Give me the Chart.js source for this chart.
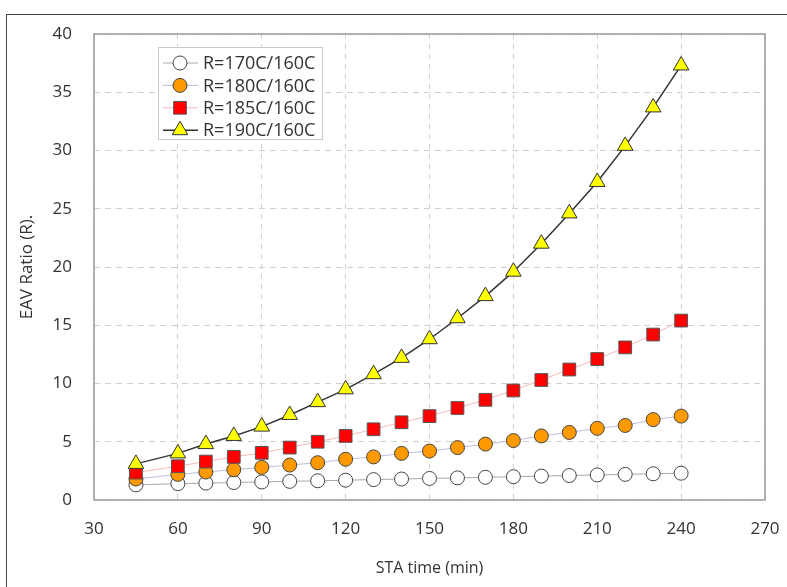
<!DOCTYPE html>
<html>
<head>
<meta charset="utf-8">
<script src="https://cdn.jsdelivr.net/npm/chart.js@4"></script>
<style>
    html, body { margin: 0; padding: 0; background: #fff; }
    #wrap { position: absolute; left: 0; top: 0; width: 787px; height: 587px; }
</style>
</head>
<body>
<div id="wrap"><canvas id="eavChart" width="787" height="587"></canvas></div>
<script>
// values
const staTime = [45, 60, 70, 80, 90, 100, 110, 120, 130, 140, 150, 160, 170, 180, 190, 200, 210, 220, 230, 240];
const ratio170 = [1.3, 1.4, 1.45, 1.5, 1.55, 1.6, 1.65, 1.7, 1.75, 1.8, 1.85, 1.9, 1.95, 2.0, 2.05, 2.1, 2.15, 2.2, 2.25, 2.3];
const ratio180 = [1.8, 2.2, 2.4, 2.6, 2.8, 3.0, 3.2, 3.5, 3.7, 4.0, 4.2, 4.5, 4.8, 5.1, 5.5, 5.8, 6.15, 6.4, 6.9, 7.2];
const ratio185 = [2.35, 2.9, 3.3, 3.7, 4.05, 4.5, 5.0, 5.5, 6.07, 6.67, 7.2, 7.9, 8.6, 9.4, 10.3, 11.2, 12.1, 13.1, 14.2, 15.4];
const ratio190 = [3.1, 4.0, 4.8, 5.5, 6.3, 7.3, 8.4, 9.5, 10.8, 12.2, 13.8, 15.6, 17.5, 19.6, 22.0, 24.6, 27.3, 30.4, 33.7, 37.3];
const seriesLabels = ['R=170C/160C', 'R=180C/160C', 'R=185C/160C', 'R=190C/160C'];

const fontFamily = '"Open Sans", "DejaVu Sans", sans-serif';

function toPoints(values) {
    return values.map((v, i) => ({ x: staTime[i], y: v }));
}

function drawMarker(ctx, style, x, y, r, fill, stroke) {
    ctx.save();
    ctx.beginPath();
    if (style === 'circle') {
        ctx.arc(x, y, r, 0, Math.PI * 2);
    } else if (style === 'rect') {
        const s = r * Math.SQRT1_2;
        ctx.rect(x - s, y - s, s * 2, s * 2);
    } else {
        ctx.moveTo(x, y - r);
        ctx.lineTo(x + r * 0.866, y + r / 2);
        ctx.lineTo(x - r * 0.866, y + r / 2);
        ctx.closePath();
    }
    ctx.fillStyle = fill;
    ctx.fill();
    ctx.lineWidth = 1;
    ctx.strokeStyle = stroke;
    ctx.stroke();
    ctx.restore();
}

// outer frame + solid plot box
const framePlugin = {
    id: 'framePlugin',
    beforeDraw(chart) {
        const ctx = chart.ctx;
        ctx.save();
        ctx.strokeStyle = '#444';
        ctx.lineWidth = 1;
        ctx.strokeRect(6.5, 14.5, 800, 600);
        ctx.restore();
    },
    afterDraw(chart) {
        const { ctx, chartArea: a } = chart;
        ctx.save();
        ctx.strokeStyle = '#9a9a9a';
        ctx.lineWidth = 1.5;
        ctx.strokeRect(a.left, a.top, a.right - a.left, a.bottom - a.top);
        ctx.restore();
    }
};

// Excel-like legend inside the plot
const boxLegend = {
    id: 'boxLegend',
    afterDraw(chart) {
        const ctx = chart.ctx;
        const x0 = 158, y0 = 47, w = 164, h = 92;
        ctx.save();
        ctx.fillStyle = '#fff';
        ctx.fillRect(x0, y0, w, h);
        ctx.strokeStyle = '#c8c8c8';
        ctx.lineWidth = 1;
        ctx.strokeRect(x0 + 0.5, y0 + 0.5, w, h);
        ctx.font = '18px ' + fontFamily;
        ctx.textBaseline = 'middle';
        chart.data.datasets.forEach((ds, i) => {
            const y = 63 + i * 22.4;
            ctx.beginPath();
            ctx.moveTo(163, y);
            ctx.lineTo(198, y);
            ctx.strokeStyle = ds.borderColor;
            ctx.lineWidth = ds.borderWidth;
            ctx.stroke();
            drawMarker(ctx, ds.pointStyle, 180, y, ds.pointRadius, ds.pointBackgroundColor, ds.pointBorderColor);
            ctx.fillStyle = '#333';
            ctx.fillText(ds.label, 203, y + 1);
        });
        ctx.restore();
    }
};

const ctx = document.getElementById('eavChart').getContext('2d');
new Chart(ctx, {
    type: 'line',
    data: {
        datasets: [
            {
                label: seriesLabels[0],
                data: toPoints(ratio170),
                borderColor: '#a8a8a8',
                borderWidth: 1,
                pointStyle: 'circle',
                pointRadius: 7,
                pointBackgroundColor: '#ffffff',
                pointBorderColor: '#444',
                pointBorderWidth: 1,
                order: 4
            },
            {
                label: seriesLabels[1],
                data: toPoints(ratio180),
                borderColor: '#b8c0dc',
                borderWidth: 1,
                pointStyle: 'circle',
                pointRadius: 7,
                pointBackgroundColor: '#ff9900',
                pointBorderColor: '#444',
                pointBorderWidth: 1,
                order: 3
            },
            {
                label: seriesLabels[2],
                data: toPoints(ratio185),
                borderColor: '#f5b8b8',
                borderWidth: 1,
                pointStyle: 'rect',
                pointRadius: 9,
                pointBackgroundColor: '#ff0000',
                pointBorderColor: '#555',
                pointBorderWidth: 1,
                order: 2
            },
            {
                label: seriesLabels[3],
                data: toPoints(ratio190),
                borderColor: '#333',
                borderWidth: 1.5,
                pointStyle: 'triangle',
                pointRadius: 9,
                pointBackgroundColor: '#ffff00',
                pointBorderColor: '#333',
                pointBorderWidth: 1,
                order: 1
            }
        ]
    },
    options: {
        responsive: false,
        animation: false,
        layout: { padding: { left: 0, top: 34, right: 22, bottom: 0 } },
        plugins: {
            legend: { display: false },
            tooltip: { enabled: false }
        },
        scales: {
            x: {
                type: 'linear',
                min: 30,
                max: 270,
                afterFit: s => {
                    s.height = 87;
                    s.paddingLeft = 0;
                    s.paddingRight = 0;
                },
                ticks: {
                    stepSize: 30,
                    padding: 19,
                    color: '#333',
                    font: { family: fontFamily, size: 17 }
                },
                grid: { color: '#d0d0d0', drawTicks: false },
                border: { display: false, dash: [5, 5] },
                title: {
                    display: true,
                    text: 'STA time (min)',
                    color: '#333',
                    font: { family: fontFamily, size: 16 },
                    padding: { top: 0, bottom: 9 }
                }
            },
            y: {
                min: 0,
                max: 40,
                afterFit: s => { s.width = 94; },
                ticks: {
                    stepSize: 5,
                    padding: 22,
                    color: '#333',
                    font: { family: fontFamily, size: 17 }
                },
                grid: { color: '#d0d0d0', drawTicks: false },
                border: { display: false, dash: [6, 5] },
                title: {
                    display: true,
                    text: 'EAV Ratio (R).',
                    color: '#333',
                    font: { family: fontFamily, size: 17 },
                    padding: { top: 17, bottom: 0 }
                }
            }
        }
    },
    plugins: [framePlugin, boxLegend]
});
</script>
</body>
</html>
